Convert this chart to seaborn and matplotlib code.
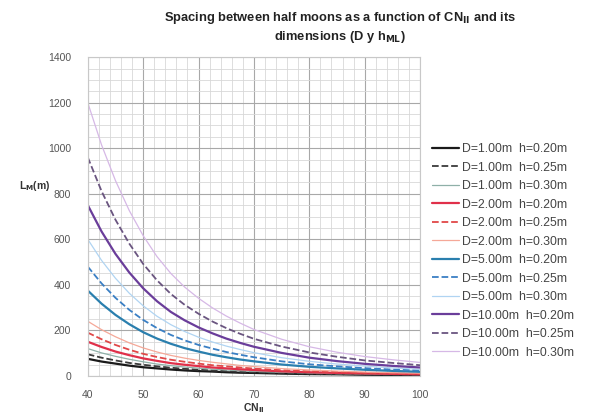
import numpy as np
import pandas as pd
import matplotlib
matplotlib.use("Agg")
import matplotlib.pyplot as plt
from matplotlib.ticker import MultipleLocator
import seaborn as sns

cn = [40, 42.5, 45, 47.5, 50, 52.5, 55, 57.5, 60, 62.5, 65, 67.5, 70, 75, 80, 85, 90, 95, 100]

labels = ["D=1.00m  h=0.20m", "D=1.00m  h=0.25m", "D=1.00m  h=0.30m",
          "D=2.00m  h=0.20m", "D=2.00m  h=0.25m", "D=2.00m  h=0.30m",
          "D=5.00m  h=0.20m", "D=5.00m  h=0.25m", "D=5.00m  h=0.30m",
          "D=10.00m  h=0.20m", "D=10.00m  h=0.25m", "D=10.00m  h=0.30m"]

d1_h20 = [75, 63, 54, 45, 38, 33, 28, 24, 21, 19, 16, 14, 13, 10, 8, 7, 5, 4, 4]
d1_h25 = [95, 80, 68, 57, 49, 42, 36, 31, 27, 24, 21, 18, 16, 13, 10, 8, 7, 6, 5]
d1_h30 = [120, 101, 86, 73, 62, 52, 45, 39, 34, 30, 26, 23, 20, 16, 13, 10, 9, 7, 6]
d2_h20 = [150, 127, 107, 91, 77, 66, 56, 49, 43, 37, 33, 29, 26, 20, 16, 13, 11, 9, 7]
d2_h25 = [190, 161, 136, 115, 97, 83, 71, 62, 54, 47, 42, 37, 32, 25, 20, 17, 13, 11, 9]
d2_h30 = [240, 203, 172, 145, 123, 105, 90, 78, 68, 60, 53, 46, 41, 32, 26, 21, 17, 14, 12]
d5_h20 = [375, 317, 268, 227, 192, 164, 141, 122, 107, 93, 82, 72, 64, 50, 40, 33, 27, 22, 18]
d5_h25 = [480, 406, 343, 290, 246, 210, 180, 156, 136, 120, 105, 93, 82, 64, 51, 42, 34, 28, 24]
d5_h30 = [600, 507, 429, 363, 308, 262, 225, 195, 170, 149, 131, 116, 102, 80, 64, 52, 43, 35, 29]
d10_h20 = [750, 634, 536, 454, 385, 328, 281, 244, 213, 187, 164, 145, 128, 101, 80, 65, 53, 44, 37]
d10_h25 = [960, 811, 686, 581, 492, 420, 360, 312, 273, 239, 210, 185, 163, 129, 103, 84, 68, 57, 47]
d10_h30 = [1200, 1014, 858, 726, 616, 524, 450, 390, 341, 299, 263, 232, 204, 161, 128, 104, 85, 71, 59]

series = [d1_h20, d1_h25, d1_h30, d2_h20, d2_h25, d2_h30,
          d5_h20, d5_h25, d5_h30, d10_h20, d10_h25, d10_h30]

colors = ["#1a1a1a", "#3a3a3a", "#8fb0a8",
          "#e0304a", "#e04848", "#f5a898",
          "#2a7fae", "#3a7fc4", "#b0d4f2",
          "#6a3d9a", "#6a5580", "#d6b8e6"]
styles = ["-", "--", "-"] * 4
widths = [1.6, 1.3, 0.9] * 4

sns.set_theme(style="white")
plt.rcParams['font.family'] = ['Liberation Sans', 'DejaVu Sans']

fig = plt.figure(figsize=(6.01, 4.2), dpi=100)
ax = fig.add_axes([0.146, 0.105, 0.553, 0.759])

for lab, vals, c, ls, lw in zip(labels, series, colors, styles, widths):
    df = pd.DataFrame({"CN": cn, "L": vals})
    sns.lineplot(data=df, x="CN", y="L", ax=ax, color=c, linestyle=ls,
                 linewidth=lw, label=lab)

ax.set_xlim(40, 100)
ax.set_ylim(0, 1400)
ax.xaxis.set_major_locator(MultipleLocator(10))
ax.xaxis.set_minor_locator(MultipleLocator(2))
ax.yaxis.set_major_locator(MultipleLocator(200))
ax.yaxis.set_minor_locator(MultipleLocator(50))
ax.grid(which="major", color="#a8a8a8", linewidth=0.8)
ax.grid(which="minor", color="#d8d8d8", linewidth=0.6)
ax.set_axisbelow(True)
for s in ax.spines.values():
    s.set_color("#c8c8c8")
    s.set_linewidth(0.8)
ax.tick_params(axis="x", which="both", length=0, labelsize=7.5,
               colors="#555555", pad=10)
ax.tick_params(axis="y", which="both", length=0, labelsize=7.5,
               colors="#555555", pad=12)

ax.set_xlabel("CN$_{\\mathbf{II}}$", fontsize=7.5, fontweight="bold", color="#333333", labelpad=1)
ax.set_ylabel("L$_{\\mathbf{M}}$(m)", fontsize=7.5, fontweight="bold", color="#333333",
              rotation=0)
ax.yaxis.set_label_coords(-0.16, 0.575)

fig.text(0.566, 0.958, "Spacing between half moons as a function of CN$_{\\mathbf{II}}$ and its",
         ha="center", va="center", fontsize=9.3, fontweight="bold", color="#222222")
fig.text(0.566, 0.912, "dimensions (D y h$_{\\mathbf{ML}}$)",
         ha="center", va="center", fontsize=9.3, fontweight="bold", color="#222222")

leg = ax.legend(loc="upper left", bbox_to_anchor=(1.02, 0.745), frameon=False,
                fontsize=8.8, handlelength=2.2, handletextpad=0.25,
                labelspacing=0.53, borderaxespad=0)
for t in leg.get_texts():
    t.set_color("#444444")

fig.savefig("out.png", dpi=100)
